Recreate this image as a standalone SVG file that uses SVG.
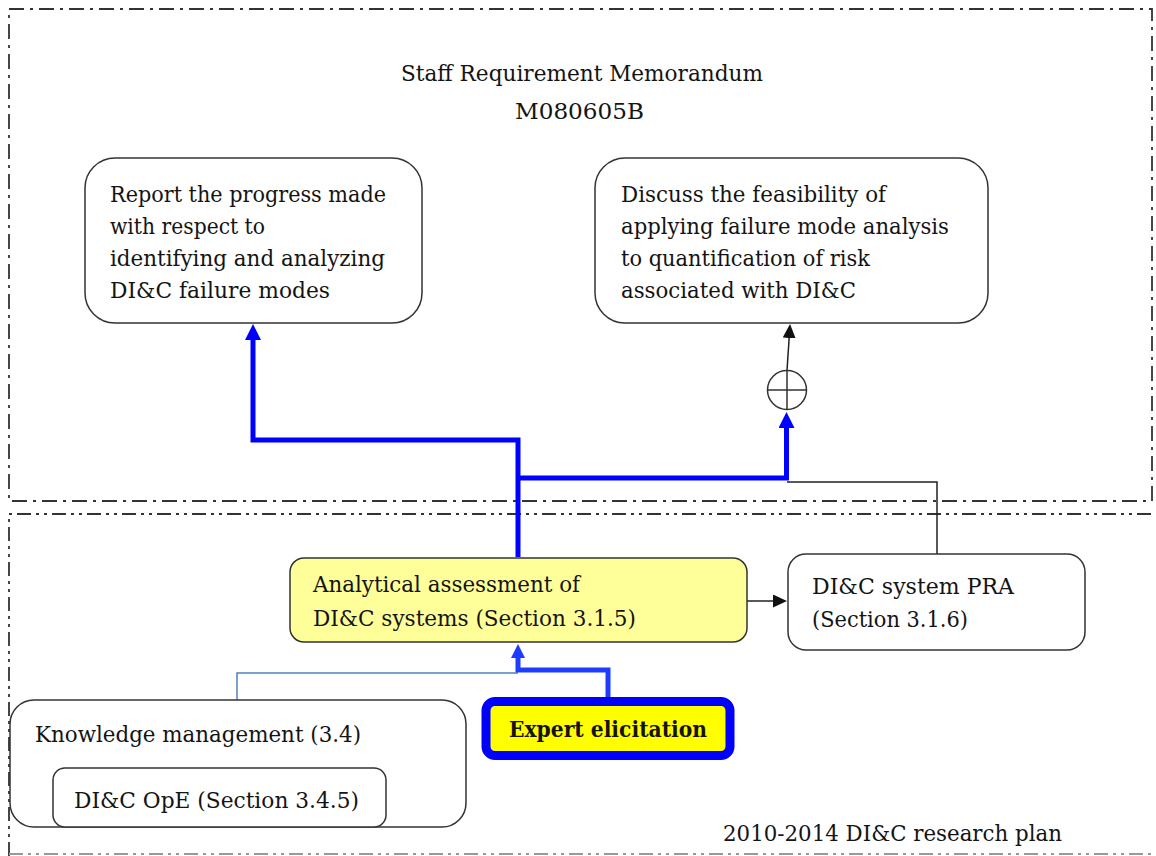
<svg xmlns="http://www.w3.org/2000/svg" width="1156" height="856" viewBox="0 0 1156 856">
  <style>
    .frame { fill: none; stroke: #333; stroke-width: 1.8; }
    .frame-top { stroke-dasharray: 15 6 3 6; }
    .frame-low { stroke-dasharray: 14 5 3 5 3 5; }
    .box { fill: #fff; stroke: #333; stroke-width: 1.5; }
    .hl { fill: #ffff99; }
    .t { font-family: "DejaVu Serif", "Liberation Serif", serif; font-size: 22px; fill: #141414; }
    .b { font-weight: bold; }
    .blue { fill: none; stroke: #0000ff; stroke-width: 5; }
    .blue2 { fill: none; stroke: #1e3cff; stroke-width: 5; }
    .thinblue { fill: none; stroke: #4f81bd; stroke-width: 1.5; }
    .black { fill: none; stroke: #222; stroke-width: 1.5; }
  </style>
  <defs>
    <marker id="arrowBlue" markerUnits="userSpaceOnUse" viewBox="0 0 16 16" refX="1" refY="8" markerWidth="16" markerHeight="16" orient="auto">
      <path d="M0,0 L16,8 L0,16 z" fill="#0000ff"/>
    </marker>
    <marker id="arrowBlue2" markerUnits="userSpaceOnUse" viewBox="0 0 14 14" refX="1" refY="7" markerWidth="14" markerHeight="14" orient="auto">
      <path d="M0,0 L14,7 L0,14 z" fill="#1e3cff"/>
    </marker>
    <marker id="arrowBlack" markerUnits="userSpaceOnUse" viewBox="0 0 14 13" refX="1" refY="6.5" markerWidth="14" markerHeight="13" orient="auto">
      <path d="M0,0 L14,6.5 L0,13 z" fill="#111"/>
    </marker>
  </defs>

  <!-- boundary frames -->
  <g id="frames">
    <rect class="frame frame-top" x="9" y="9" width="1143" height="492"/>
    <path class="frame frame-low" d="M9,856 V514 H1156"/>
    <path class="frame frame-low" d="M9,854 H1156" style="stroke:#999"/>
  </g>

  <g id="title">
    <text class="t" x="401" y="81" textLength="362" lengthAdjust="spacingAndGlyphs">Staff Requirement Memorandum</text>
    <text class="t" x="515" y="119" textLength="129" lengthAdjust="spacingAndGlyphs">M080605B</text>
  </g>

  <!-- connectors -->
  <g id="connectors">
    <path class="blue" d="M518,557 V440 H253 V339" marker-end="url(#arrowBlue)"/>
    <path class="blue" d="M518,478 H786.5 V427" marker-end="url(#arrowBlue)"/>
    <path class="black" d="M787,482 H937 V554"/>
    <path class="black" d="M787,370.5 L789.2,337" marker-end="url(#arrowBlack)"/>
    <path class="black" d="M747,601 H774" marker-end="url(#arrowBlack)"/>
    <path class="thinblue" d="M237,700 V673 H518"/>
    <path class="blue2" d="M608,697 V670 H518 V657" marker-end="url(#arrowBlue2)"/>
  </g>

  <g id="node-report">
    <rect class="box" x="85" y="158" width="337" height="165" rx="30"/>
    <text class="t" x="110" y="202" textLength="276" lengthAdjust="spacingAndGlyphs">Report the progress made</text>
    <text class="t" x="110" y="234" textLength="155" lengthAdjust="spacingAndGlyphs">with respect to</text>
    <text class="t" x="110" y="266" textLength="275" lengthAdjust="spacingAndGlyphs">identifying and analyzing</text>
    <text class="t" x="110" y="298" textLength="220" lengthAdjust="spacingAndGlyphs">DI&amp;C failure modes</text>
  </g>

  <g id="node-discuss">
    <rect class="box" x="595" y="158" width="393" height="165" rx="30"/>
    <text class="t" x="621" y="202" textLength="265" lengthAdjust="spacingAndGlyphs">Discuss the feasibility of</text>
    <text class="t" x="621" y="234" textLength="328" lengthAdjust="spacingAndGlyphs">applying failure mode analysis</text>
    <text class="t" x="621" y="266" textLength="249" lengthAdjust="spacingAndGlyphs">to quantification of risk</text>
    <text class="t" x="621" y="298" textLength="235" lengthAdjust="spacingAndGlyphs">associated with DI&amp;C</text>
  </g>

  <g id="node-sum">
    <circle cx="787" cy="390" r="19.5" fill="#fff" stroke="#333" stroke-width="1.5"/>
    <path d="M767.5,390 H806.5 M787,370.5 V409.5" stroke="#333" stroke-width="1.5"/>
  </g>

  <g id="node-analytical">
    <rect class="box hl" x="290" y="558" width="457" height="84" rx="14"/>
    <text class="t" x="313" y="592" textLength="267" lengthAdjust="spacingAndGlyphs">Analytical assessment of</text>
    <text class="t" x="313" y="626" textLength="323" lengthAdjust="spacingAndGlyphs">DI&amp;C systems (Section 3.1.5)</text>
  </g>

  <g id="node-pra">
    <rect class="box" x="788" y="554" width="297" height="96" rx="18"/>
    <text class="t" x="812" y="594" textLength="202" lengthAdjust="spacingAndGlyphs">DI&amp;C system PRA</text>
    <text class="t" x="812" y="627" textLength="156" lengthAdjust="spacingAndGlyphs">(Section 3.1.6)</text>
  </g>

  <g id="node-expert">
    <rect x="486" y="701.5" width="244" height="54" rx="9" fill="#ffff00" stroke="#0000ff" stroke-width="9"/>
    <text class="t b" x="509" y="737" textLength="198" lengthAdjust="spacingAndGlyphs">Expert elicitation</text>
  </g>

  <g id="node-knowledge">
    <rect class="box" x="10" y="700" width="456" height="127" rx="24"/>
    <text class="t" x="35" y="742" textLength="326" lengthAdjust="spacingAndGlyphs">Knowledge management (3.4)</text>
  </g>

  <g id="node-ope">
    <rect class="box" x="53" y="768" width="333" height="59" rx="12"/>
    <text class="t" x="74" y="808" textLength="285" lengthAdjust="spacingAndGlyphs">DI&amp;C OpE (Section 3.4.5)</text>
  </g>

  <g id="plan-label">
    <text class="t" x="723" y="841" textLength="339" lengthAdjust="spacingAndGlyphs">2010-2014 DI&amp;C research plan</text>
  </g>
</svg>
